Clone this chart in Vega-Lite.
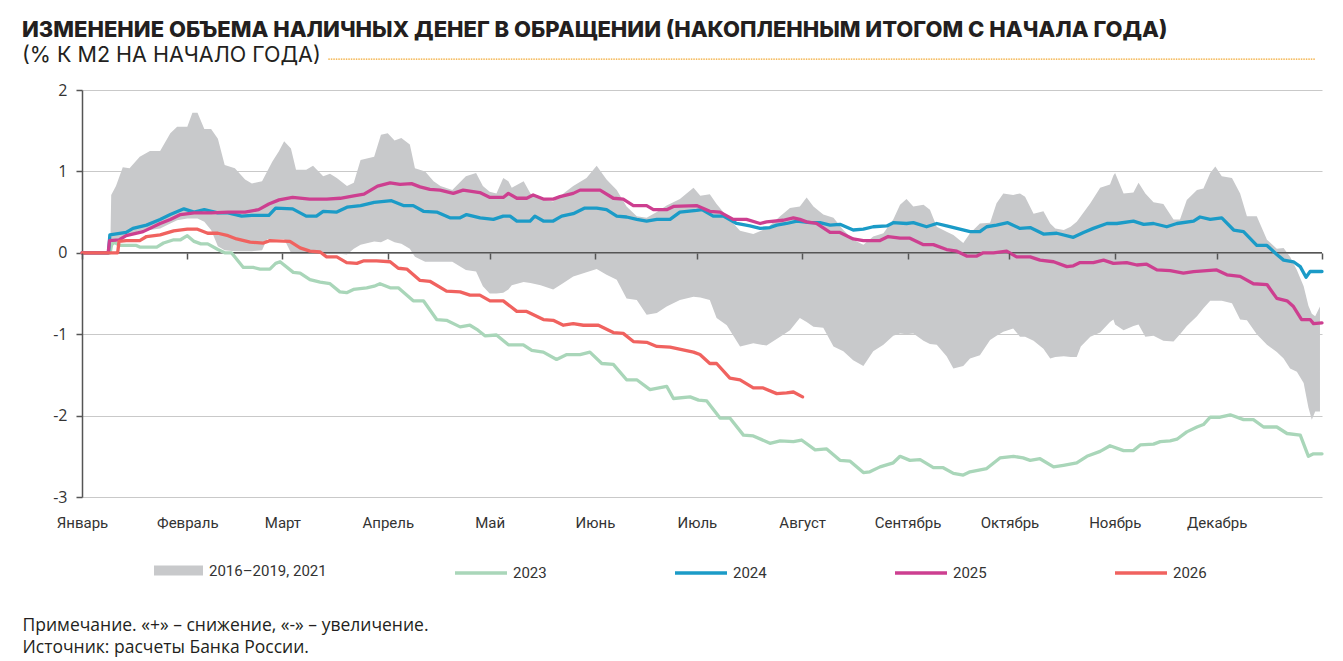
{
  "$schema": "https://vega.github.io/schema/vega-lite/v6.json",
  "width": 1240,
  "height": 407,
  "autosize": "none",
  "padding": {"left": 82, "top": 90, "right": 21, "bottom": 164},
  "background": "white",
  "title": {
    "text": "ИЗМЕНЕНИЕ ОБЪЕМА НАЛИЧНЫХ ДЕНЕГ В ОБРАЩЕНИИ (НАКОПЛЕННЫМ ИТОГОМ С НАЧАЛА ГОДА)",
    "subtitle": "(% К М2 НА НАЧАЛО ГОДА)",
    "anchor": "start",
    "frame": "group",
    "dx": -60,
    "offset": -9,
    "font": "Inter",
    "fontSize": 22,
    "fontWeight": 800,
    "color": "#231f20",
    "subtitleFont": "Inter",
    "subtitleFontSize": 21.5,
    "subtitleFontWeight": 400,
    "subtitleColor": "#231f20",
    "subtitlePadding": 3
  },
  "datasets": {
    "band": [
      {"day": 0, "lo": 0, "hi": 0}, {"day": 8.3, "lo": 0, "hi": 0}, {"day": 8.6, "lo": 0.05, "hi": 0.71},
      {"day": 10, "lo": 0.15, "hi": 0.82}, {"day": 12, "lo": 0.2, "hi": 1.05}, {"day": 14, "lo": 0.22, "hi": 1.04},
      {"day": 17, "lo": 0.27, "hi": 1.18}, {"day": 20, "lo": 0.28, "hi": 1.25}, {"day": 23, "lo": 0.3, "hi": 1.25},
      {"day": 26, "lo": 0.36, "hi": 1.47}, {"day": 28, "lo": 0.4, "hi": 1.55}, {"day": 31, "lo": 0.42, "hi": 1.55},
      {"day": 32.5, "lo": 0.42, "hi": 1.72}, {"day": 34, "lo": 0.42, "hi": 1.72}, {"day": 36, "lo": 0.38, "hi": 1.52},
      {"day": 38, "lo": 0.28, "hi": 1.52}, {"day": 40, "lo": 0.08, "hi": 1.4}, {"day": 42, "lo": 0.03, "hi": 1.08},
      {"day": 45, "lo": 0.02, "hi": 1.04}, {"day": 48, "lo": 0.02, "hi": 0.9}, {"day": 50, "lo": 0.02, "hi": 0.85},
      {"day": 53, "lo": 0.03, "hi": 0.88}, {"day": 54.5, "lo": 0.17, "hi": 1.0}, {"day": 56, "lo": 0.17, "hi": 1.12},
      {"day": 58, "lo": 0.17, "hi": 1.25}, {"day": 59.5, "lo": 0.17, "hi": 1.37}, {"day": 61.5, "lo": 0.0, "hi": 1.28},
      {"day": 63, "lo": -0.01, "hi": 1.02}, {"day": 66, "lo": -0.01, "hi": 1.02}, {"day": 68, "lo": -0.01, "hi": 1.07},
      {"day": 71, "lo": -0.01, "hi": 0.94}, {"day": 73, "lo": -0.01, "hi": 0.97}, {"day": 75, "lo": -0.01, "hi": 0.92},
      {"day": 78, "lo": -0.02, "hi": 0.82}, {"day": 80, "lo": 0.05, "hi": 0.86}, {"day": 82, "lo": 0.1, "hi": 1.14},
      {"day": 86, "lo": 0.14, "hi": 1.18}, {"day": 88, "lo": 0.13, "hi": 1.45}, {"day": 90, "lo": 0.17, "hi": 1.47},
      {"day": 92, "lo": 0.13, "hi": 1.38}, {"day": 94, "lo": 0.11, "hi": 1.41}, {"day": 96.5, "lo": 0.05, "hi": 1.33},
      {"day": 98, "lo": -0.05, "hi": 1.04}, {"day": 101, "lo": -0.11, "hi": 1.0}, {"day": 103.5, "lo": -0.11, "hi": 0.88},
      {"day": 105.5, "lo": -0.11, "hi": 0.82}, {"day": 109, "lo": -0.11, "hi": 0.77}, {"day": 113, "lo": -0.21, "hi": 0.94},
      {"day": 116, "lo": -0.23, "hi": 0.98}, {"day": 118, "lo": -0.41, "hi": 0.82}, {"day": 120, "lo": -0.5, "hi": 0.75},
      {"day": 122, "lo": -0.5, "hi": 0.73}, {"day": 124, "lo": -0.49, "hi": 0.92}, {"day": 125.5, "lo": -0.45, "hi": 0.88},
      {"day": 126.5, "lo": -0.4, "hi": 0.8}, {"day": 130, "lo": -0.36, "hi": 0.88}, {"day": 132, "lo": -0.37, "hi": 0.73},
      {"day": 135, "lo": -0.4, "hi": 0.66}, {"day": 138.7, "lo": -0.45, "hi": 0.63}, {"day": 141.7, "lo": -0.37, "hi": 0.73},
      {"day": 144.6, "lo": -0.29, "hi": 0.82}, {"day": 148.5, "lo": -0.24, "hi": 0.92}, {"day": 151.5, "lo": -0.2, "hi": 1.07},
      {"day": 154.4, "lo": -0.27, "hi": 0.9}, {"day": 157.4, "lo": -0.33, "hi": 0.77}, {"day": 160.3, "lo": -0.56, "hi": 0.57},
      {"day": 163.3, "lo": -0.58, "hi": 0.45}, {"day": 166.2, "lo": -0.76, "hi": 0.43}, {"day": 169.2, "lo": -0.74, "hi": 0.5},
      {"day": 172.1, "lo": -0.66, "hi": 0.58}, {"day": 176, "lo": -0.58, "hi": 0.66}, {"day": 180, "lo": -0.54, "hi": 0.8},
      {"day": 182, "lo": -0.55, "hi": 0.7}, {"day": 184.8, "lo": -0.58, "hi": 0.72}, {"day": 186.8, "lo": -0.8, "hi": 0.6},
      {"day": 189.8, "lo": -0.89, "hi": 0.45}, {"day": 193.7, "lo": -1.15, "hi": 0.27}, {"day": 197.6, "lo": -1.11, "hi": 0.23},
      {"day": 201.5, "lo": -1.14, "hi": 0.3}, {"day": 205.5, "lo": -1.03, "hi": 0.45}, {"day": 208.4, "lo": -0.95, "hi": 0.55},
      {"day": 211.3, "lo": -0.8, "hi": 0.57}, {"day": 213.3, "lo": -0.85, "hi": 0.68}, {"day": 215.3, "lo": -0.91, "hi": 0.57},
      {"day": 218.2, "lo": -0.92, "hi": 0.47}, {"day": 221.2, "lo": -1.15, "hi": 0.43}, {"day": 224.1, "lo": -1.21, "hi": 0.28},
      {"day": 227, "lo": -1.32, "hi": 0.16}, {"day": 230, "lo": -1.39, "hi": 0.1}, {"day": 232.9, "lo": -1.21, "hi": 0.2},
      {"day": 235.9, "lo": -1.13, "hi": 0.24}, {"day": 238.8, "lo": -1.02, "hi": 0.41}, {"day": 240.8, "lo": -0.99, "hi": 0.59},
      {"day": 242.7, "lo": -1.0, "hi": 0.66}, {"day": 244.7, "lo": -0.99, "hi": 0.57}, {"day": 247.7, "lo": -1.08, "hi": 0.59},
      {"day": 249.6, "lo": -1.12, "hi": 0.53}, {"day": 251.6, "lo": -1.13, "hi": 0.32}, {"day": 254.5, "lo": -1.27, "hi": 0.26},
      {"day": 256.5, "lo": -1.42, "hi": 0.22}, {"day": 259.4, "lo": -1.39, "hi": 0.12}, {"day": 261.4, "lo": -1.3, "hi": 0.24},
      {"day": 264.3, "lo": -1.26, "hi": 0.36}, {"day": 267.3, "lo": -1.07, "hi": 0.37}, {"day": 269.2, "lo": -1.02, "hi": 0.61},
      {"day": 271.2, "lo": -0.97, "hi": 0.73}, {"day": 274.1, "lo": -0.93, "hi": 0.71}, {"day": 276.1, "lo": -1.03, "hi": 0.73},
      {"day": 277.6, "lo": -1.03, "hi": 0.69}, {"day": 280.1, "lo": -1.08, "hi": 0.48}, {"day": 283, "lo": -1.18, "hi": 0.51},
      {"day": 285, "lo": -1.3, "hi": 0.36}, {"day": 286.5, "lo": -1.28, "hi": 0.3}, {"day": 289, "lo": -1.27, "hi": 0.28},
      {"day": 291, "lo": -1.28, "hi": 0.32}, {"day": 292.8, "lo": -1.28, "hi": 0.38}, {"day": 294, "lo": -1.15, "hi": 0.45},
      {"day": 296.8, "lo": -1.03, "hi": 0.61}, {"day": 299.7, "lo": -0.98, "hi": 0.8}, {"day": 302.6, "lo": -0.85, "hi": 0.84},
      {"day": 303.6, "lo": -0.82, "hi": 0.95}, {"day": 304.1, "lo": -0.88, "hi": 0.98}, {"day": 306.6, "lo": -0.95, "hi": 0.73},
      {"day": 309.5, "lo": -0.9, "hi": 0.74}, {"day": 311, "lo": -0.88, "hi": 0.86}, {"day": 313, "lo": -1.03, "hi": 0.73},
      {"day": 315.4, "lo": -1.02, "hi": 0.62}, {"day": 318.3, "lo": -1.08, "hi": 0.6}, {"day": 321.3, "lo": -1.09, "hi": 0.41},
      {"day": 323.2, "lo": -1.0, "hi": 0.41}, {"day": 325.2, "lo": -0.9, "hi": 0.65}, {"day": 328.2, "lo": -0.78, "hi": 0.77},
      {"day": 330.1, "lo": -0.68, "hi": 0.79}, {"day": 332.1, "lo": -0.59, "hi": 0.98}, {"day": 333.6, "lo": -0.59, "hi": 1.06},
      {"day": 335.5, "lo": -0.59, "hi": 0.94}, {"day": 338.5, "lo": -0.62, "hi": 0.92}, {"day": 340.9, "lo": -0.82, "hi": 0.73},
      {"day": 342.9, "lo": -0.83, "hi": 0.45}, {"day": 345.8, "lo": -1.0, "hi": 0.45}, {"day": 348.8, "lo": -1.13, "hi": 0.16},
      {"day": 351.7, "lo": -1.22, "hi": 0.05}, {"day": 353.7, "lo": -1.3, "hi": 0.06}, {"day": 355.6, "lo": -1.42, "hi": -0.05},
      {"day": 357.6, "lo": -1.46, "hi": -0.21}, {"day": 359.6, "lo": -1.6, "hi": -0.41}, {"day": 361, "lo": -1.9, "hi": -0.65},
      {"day": 362, "lo": -2.05, "hi": -0.75}, {"day": 363, "lo": -1.95, "hi": -0.78}, {"day": 364.4, "lo": -1.95, "hi": -0.66}
    ],
    "lines": [
      {"year": "2023", "day": 0, "value": 0}, {"year": "2023", "day": 8.3, "value": 0}, {"year": "2023", "day": 8.7, "value": 0.1},
      {"year": "2023", "day": 9.5, "value": 0.13}, {"year": "2023", "day": 11, "value": 0.09}, {"year": "2023", "day": 16, "value": 0.09},
      {"year": "2023", "day": 17, "value": 0.07}, {"year": "2023", "day": 22, "value": 0.07}, {"year": "2023", "day": 24, "value": 0.12},
      {"year": "2023", "day": 27, "value": 0.16}, {"year": "2023", "day": 29, "value": 0.16}, {"year": "2023", "day": 31, "value": 0.21},
      {"year": "2023", "day": 33, "value": 0.14}, {"year": "2023", "day": 35, "value": 0.11}, {"year": "2023", "day": 37, "value": 0.11},
      {"year": "2023", "day": 40, "value": 0.04}, {"year": "2023", "day": 42, "value": 0}, {"year": "2023", "day": 44, "value": 0},
      {"year": "2023", "day": 47.5, "value": -0.18}, {"year": "2023", "day": 50.4, "value": -0.18}, {"year": "2023", "day": 52.4, "value": -0.2},
      {"year": "2023", "day": 55.3, "value": -0.2}, {"year": "2023", "day": 57, "value": -0.13}, {"year": "2023", "day": 58.3, "value": -0.11},
      {"year": "2023", "day": 62.2, "value": -0.24}, {"year": "2023", "day": 64.2, "value": -0.25}, {"year": "2023", "day": 67.1, "value": -0.33},
      {"year": "2023", "day": 70.1, "value": -0.36}, {"year": "2023", "day": 73, "value": -0.38}, {"year": "2023", "day": 75.9, "value": -0.48},
      {"year": "2023", "day": 77.9, "value": -0.49}, {"year": "2023", "day": 79.9, "value": -0.45}, {"year": "2023", "day": 83.8, "value": -0.43},
      {"year": "2023", "day": 86, "value": -0.41}, {"year": "2023", "day": 87.7, "value": -0.38}, {"year": "2023", "day": 90.7, "value": -0.43},
      {"year": "2023", "day": 93.1, "value": -0.43}, {"year": "2023", "day": 97.5, "value": -0.59}, {"year": "2023", "day": 100.5, "value": -0.59},
      {"year": "2023", "day": 104.4, "value": -0.82}, {"year": "2023", "day": 107.3, "value": -0.83}, {"year": "2023", "day": 111.3, "value": -0.91},
      {"year": "2023", "day": 114.2, "value": -0.89}, {"year": "2023", "day": 116.2, "value": -0.94}, {"year": "2023", "day": 118.6, "value": -1.02},
      {"year": "2023", "day": 122, "value": -1.01}, {"year": "2023", "day": 125.5, "value": -1.13}, {"year": "2023", "day": 129.9, "value": -1.13},
      {"year": "2023", "day": 132.4, "value": -1.2}, {"year": "2023", "day": 135.8, "value": -1.22}, {"year": "2023", "day": 139.7, "value": -1.31},
      {"year": "2023", "day": 142.7, "value": -1.25}, {"year": "2023", "day": 146.6, "value": -1.25}, {"year": "2023", "day": 149.5, "value": -1.22},
      {"year": "2023", "day": 153, "value": -1.36}, {"year": "2023", "day": 156.4, "value": -1.37}, {"year": "2023", "day": 160.3, "value": -1.56},
      {"year": "2023", "day": 163.3, "value": -1.56}, {"year": "2023", "day": 167.2, "value": -1.68}, {"year": "2023", "day": 172.1, "value": -1.64},
      {"year": "2023", "day": 174.1, "value": -1.79}, {"year": "2023", "day": 179, "value": -1.77}, {"year": "2023", "day": 181.5, "value": -1.81},
      {"year": "2023", "day": 183.9, "value": -1.82}, {"year": "2023", "day": 187.8, "value": -2.03}, {"year": "2023", "day": 190.7, "value": -2.03},
      {"year": "2023", "day": 194.7, "value": -2.24}, {"year": "2023", "day": 197.6, "value": -2.25}, {"year": "2023", "day": 202.5, "value": -2.34},
      {"year": "2023", "day": 205.5, "value": -2.31}, {"year": "2023", "day": 209.4, "value": -2.32}, {"year": "2023", "day": 211.8, "value": -2.3},
      {"year": "2023", "day": 215.8, "value": -2.42}, {"year": "2023", "day": 219.2, "value": -2.41}, {"year": "2023", "day": 223.1, "value": -2.55},
      {"year": "2023", "day": 226.1, "value": -2.56}, {"year": "2023", "day": 230, "value": -2.7}, {"year": "2023", "day": 231.9, "value": -2.69},
      {"year": "2023", "day": 234.9, "value": -2.63}, {"year": "2023", "day": 238.8, "value": -2.58}, {"year": "2023", "day": 240.8, "value": -2.5},
      {"year": "2023", "day": 243.7, "value": -2.55}, {"year": "2023", "day": 246.7, "value": -2.54}, {"year": "2023", "day": 250.6, "value": -2.64},
      {"year": "2023", "day": 253.5, "value": -2.64}, {"year": "2023", "day": 256.5, "value": -2.71}, {"year": "2023", "day": 259.4, "value": -2.73},
      {"year": "2023", "day": 261.4, "value": -2.69}, {"year": "2023", "day": 266.3, "value": -2.65}, {"year": "2023", "day": 270.2, "value": -2.52},
      {"year": "2023", "day": 274.2, "value": -2.5}, {"year": "2023", "day": 277, "value": -2.52}, {"year": "2023", "day": 279.1, "value": -2.55},
      {"year": "2023", "day": 282, "value": -2.53}, {"year": "2023", "day": 286, "value": -2.63}, {"year": "2023", "day": 288.9, "value": -2.61},
      {"year": "2023", "day": 292.8, "value": -2.58}, {"year": "2023", "day": 295.8, "value": -2.5}, {"year": "2023", "day": 299.7, "value": -2.44},
      {"year": "2023", "day": 302.6, "value": -2.37}, {"year": "2023", "day": 306.6, "value": -2.43}, {"year": "2023", "day": 309.5, "value": -2.43},
      {"year": "2023", "day": 311.5, "value": -2.36}, {"year": "2023", "day": 315.4, "value": -2.35}, {"year": "2023", "day": 317.4, "value": -2.32},
      {"year": "2023", "day": 320.3, "value": -2.31}, {"year": "2023", "day": 322.3, "value": -2.29}, {"year": "2023", "day": 325.2, "value": -2.2},
      {"year": "2023", "day": 328.2, "value": -2.14}, {"year": "2023", "day": 330.1, "value": -2.11}, {"year": "2023", "day": 332.1, "value": -2.02},
      {"year": "2023", "day": 335, "value": -2.02}, {"year": "2023", "day": 338, "value": -1.99}, {"year": "2023", "day": 341.9, "value": -2.05},
      {"year": "2023", "day": 344.8, "value": -2.05}, {"year": "2023", "day": 347.8, "value": -2.14}, {"year": "2023", "day": 351.7, "value": -2.14},
      {"year": "2023", "day": 354.7, "value": -2.22}, {"year": "2023", "day": 358.6, "value": -2.24}, {"year": "2023", "day": 361, "value": -2.5},
      {"year": "2023", "day": 362.5, "value": -2.47}, {"year": "2023", "day": 365, "value": -2.47},

      {"year": "2024", "day": 0, "value": 0}, {"year": "2024", "day": 7.8, "value": 0}, {"year": "2024", "day": 8.2, "value": 0.22},
      {"year": "2024", "day": 13, "value": 0.25}, {"year": "2024", "day": 15, "value": 0.3}, {"year": "2024", "day": 19, "value": 0.34},
      {"year": "2024", "day": 23, "value": 0.41}, {"year": "2024", "day": 26, "value": 0.47}, {"year": "2024", "day": 30, "value": 0.54},
      {"year": "2024", "day": 33, "value": 0.5}, {"year": "2024", "day": 36, "value": 0.53}, {"year": "2024", "day": 40, "value": 0.49},
      {"year": "2024", "day": 43, "value": 0.49}, {"year": "2024", "day": 47, "value": 0.45}, {"year": "2024", "day": 50, "value": 0.46},
      {"year": "2024", "day": 55, "value": 0.46}, {"year": "2024", "day": 57, "value": 0.55}, {"year": "2024", "day": 62, "value": 0.54},
      {"year": "2024", "day": 66, "value": 0.45}, {"year": "2024", "day": 69, "value": 0.45}, {"year": "2024", "day": 71, "value": 0.51},
      {"year": "2024", "day": 75, "value": 0.5}, {"year": "2024", "day": 78, "value": 0.56}, {"year": "2024", "day": 82, "value": 0.58},
      {"year": "2024", "day": 86, "value": 0.62}, {"year": "2024", "day": 91.1, "value": 0.64}, {"year": "2024", "day": 94.6, "value": 0.58},
      {"year": "2024", "day": 97.5, "value": 0.58}, {"year": "2024", "day": 100.5, "value": 0.51}, {"year": "2024", "day": 104.4, "value": 0.5},
      {"year": "2024", "day": 108.3, "value": 0.43}, {"year": "2024", "day": 111.3, "value": 0.43}, {"year": "2024", "day": 113.2, "value": 0.47},
      {"year": "2024", "day": 117.2, "value": 0.43}, {"year": "2024", "day": 121.1, "value": 0.41}, {"year": "2024", "day": 124, "value": 0.45},
      {"year": "2024", "day": 126, "value": 0.45}, {"year": "2024", "day": 128, "value": 0.39}, {"year": "2024", "day": 131.9, "value": 0.39},
      {"year": "2024", "day": 133.3, "value": 0.45}, {"year": "2024", "day": 135.8, "value": 0.39}, {"year": "2024", "day": 138.7, "value": 0.39},
      {"year": "2024", "day": 141.2, "value": 0.45}, {"year": "2024", "day": 144.6, "value": 0.48}, {"year": "2024", "day": 148, "value": 0.55},
      {"year": "2024", "day": 151.5, "value": 0.55}, {"year": "2024", "day": 154.4, "value": 0.53}, {"year": "2024", "day": 157.4, "value": 0.45},
      {"year": "2024", "day": 160.3, "value": 0.44}, {"year": "2024", "day": 163.3, "value": 0.41}, {"year": "2024", "day": 166.2, "value": 0.39},
      {"year": "2024", "day": 169.2, "value": 0.41}, {"year": "2024", "day": 173.1, "value": 0.41}, {"year": "2024", "day": 176, "value": 0.5},
      {"year": "2024", "day": 180.9, "value": 0.52}, {"year": "2024", "day": 182.5, "value": 0.53}, {"year": "2024", "day": 185.8, "value": 0.45},
      {"year": "2024", "day": 188.8, "value": 0.45}, {"year": "2024", "day": 192.7, "value": 0.36}, {"year": "2024", "day": 196.6, "value": 0.33},
      {"year": "2024", "day": 199.6, "value": 0.3}, {"year": "2024", "day": 202.5, "value": 0.31}, {"year": "2024", "day": 204.5, "value": 0.34},
      {"year": "2024", "day": 207.4, "value": 0.36}, {"year": "2024", "day": 210.4, "value": 0.39}, {"year": "2024", "day": 214.3, "value": 0.37},
      {"year": "2024", "day": 217.2, "value": 0.37}, {"year": "2024", "day": 220.2, "value": 0.34}, {"year": "2024", "day": 223.1, "value": 0.35},
      {"year": "2024", "day": 227, "value": 0.28}, {"year": "2024", "day": 230, "value": 0.29}, {"year": "2024", "day": 232.9, "value": 0.32},
      {"year": "2024", "day": 236.9, "value": 0.33}, {"year": "2024", "day": 238.8, "value": 0.37}, {"year": "2024", "day": 242.7, "value": 0.36},
      {"year": "2024", "day": 244.7, "value": 0.37}, {"year": "2024", "day": 248.6, "value": 0.32}, {"year": "2024", "day": 251.6, "value": 0.36},
      {"year": "2024", "day": 254.5, "value": 0.33}, {"year": "2024", "day": 258.4, "value": 0.29}, {"year": "2024", "day": 261.4, "value": 0.26},
      {"year": "2024", "day": 264.3, "value": 0.26}, {"year": "2024", "day": 266.3, "value": 0.32}, {"year": "2024", "day": 269.2, "value": 0.34},
      {"year": "2024", "day": 272.5, "value": 0.37}, {"year": "2024", "day": 276.1, "value": 0.3}, {"year": "2024", "day": 279.1, "value": 0.31},
      {"year": "2024", "day": 283, "value": 0.23}, {"year": "2024", "day": 286.9, "value": 0.24}, {"year": "2024", "day": 291.8, "value": 0.19},
      {"year": "2024", "day": 294.8, "value": 0.25}, {"year": "2024", "day": 297.7, "value": 0.3}, {"year": "2024", "day": 301.7, "value": 0.36},
      {"year": "2024", "day": 304.6, "value": 0.36}, {"year": "2024", "day": 309.5, "value": 0.39}, {"year": "2024", "day": 312.5, "value": 0.35},
      {"year": "2024", "day": 315.4, "value": 0.36}, {"year": "2024", "day": 319.3, "value": 0.32}, {"year": "2024", "day": 322.3, "value": 0.36},
      {"year": "2024", "day": 327.2, "value": 0.39}, {"year": "2024", "day": 329.1, "value": 0.44}, {"year": "2024", "day": 332.1, "value": 0.41},
      {"year": "2024", "day": 335.5, "value": 0.43}, {"year": "2024", "day": 339, "value": 0.28}, {"year": "2024", "day": 341.9, "value": 0.26},
      {"year": "2024", "day": 345.8, "value": 0.09}, {"year": "2024", "day": 348.8, "value": 0.09}, {"year": "2024", "day": 351.7, "value": -0.02},
      {"year": "2024", "day": 353.7, "value": -0.09}, {"year": "2024", "day": 356.6, "value": -0.11}, {"year": "2024", "day": 358.6, "value": -0.17},
      {"year": "2024", "day": 360.3, "value": -0.3}, {"year": "2024", "day": 361.5, "value": -0.23}, {"year": "2024", "day": 365, "value": -0.23},

      {"year": "2025", "day": 0, "value": 0}, {"year": "2025", "day": 7.7, "value": 0}, {"year": "2025", "day": 8.1, "value": 0.15},
      {"year": "2025", "day": 11, "value": 0.16}, {"year": "2025", "day": 13, "value": 0.21}, {"year": "2025", "day": 18, "value": 0.26},
      {"year": "2025", "day": 23, "value": 0.36}, {"year": "2025", "day": 26, "value": 0.41}, {"year": "2025", "day": 29, "value": 0.47},
      {"year": "2025", "day": 33, "value": 0.49}, {"year": "2025", "day": 38, "value": 0.49}, {"year": "2025", "day": 43, "value": 0.5},
      {"year": "2025", "day": 48, "value": 0.5}, {"year": "2025", "day": 52, "value": 0.53}, {"year": "2025", "day": 55, "value": 0.6},
      {"year": "2025", "day": 58, "value": 0.65}, {"year": "2025", "day": 62, "value": 0.68}, {"year": "2025", "day": 67, "value": 0.66},
      {"year": "2025", "day": 72, "value": 0.66}, {"year": "2025", "day": 76, "value": 0.67}, {"year": "2025", "day": 80, "value": 0.7},
      {"year": "2025", "day": 83, "value": 0.72}, {"year": "2025", "day": 87, "value": 0.82}, {"year": "2025", "day": 90.7, "value": 0.86},
      {"year": "2025", "day": 93.6, "value": 0.84}, {"year": "2025", "day": 97, "value": 0.85}, {"year": "2025", "day": 99.5, "value": 0.81},
      {"year": "2025", "day": 102.4, "value": 0.78}, {"year": "2025", "day": 105.4, "value": 0.77}, {"year": "2025", "day": 109.3, "value": 0.73},
      {"year": "2025", "day": 112.2, "value": 0.77}, {"year": "2025", "day": 117.1, "value": 0.74}, {"year": "2025", "day": 120.1, "value": 0.68},
      {"year": "2025", "day": 124, "value": 0.68}, {"year": "2025", "day": 125.5, "value": 0.73}, {"year": "2025", "day": 128, "value": 0.67},
      {"year": "2025", "day": 130.9, "value": 0.67}, {"year": "2025", "day": 132.8, "value": 0.71}, {"year": "2025", "day": 135.8, "value": 0.66},
      {"year": "2025", "day": 138.7, "value": 0.66}, {"year": "2025", "day": 140.7, "value": 0.69}, {"year": "2025", "day": 144.6, "value": 0.73},
      {"year": "2025", "day": 146.6, "value": 0.77}, {"year": "2025", "day": 152.5, "value": 0.77}, {"year": "2025", "day": 156.4, "value": 0.67},
      {"year": "2025", "day": 159.3, "value": 0.66}, {"year": "2025", "day": 162.3, "value": 0.58}, {"year": "2025", "day": 166.2, "value": 0.58},
      {"year": "2025", "day": 168.2, "value": 0.53}, {"year": "2025", "day": 172.1, "value": 0.53}, {"year": "2025", "day": 174.1, "value": 0.57},
      {"year": "2025", "day": 180.9, "value": 0.58}, {"year": "2025", "day": 184.8, "value": 0.51}, {"year": "2025", "day": 187.8, "value": 0.5},
      {"year": "2025", "day": 191.7, "value": 0.41}, {"year": "2025", "day": 195.6, "value": 0.41}, {"year": "2025", "day": 199.6, "value": 0.36},
      {"year": "2025", "day": 201.5, "value": 0.38}, {"year": "2025", "day": 206.4, "value": 0.4}, {"year": "2025", "day": 209.4, "value": 0.43},
      {"year": "2025", "day": 211.3, "value": 0.41}, {"year": "2025", "day": 213.3, "value": 0.38}, {"year": "2025", "day": 216.2, "value": 0.36},
      {"year": "2025", "day": 220.2, "value": 0.25}, {"year": "2025", "day": 223.1, "value": 0.25}, {"year": "2025", "day": 227, "value": 0.17},
      {"year": "2025", "day": 230, "value": 0.15}, {"year": "2025", "day": 234.9, "value": 0.15}, {"year": "2025", "day": 237.3, "value": 0.2},
      {"year": "2025", "day": 240.8, "value": 0.18}, {"year": "2025", "day": 243.7, "value": 0.18}, {"year": "2025", "day": 247.7, "value": 0.1},
      {"year": "2025", "day": 250.6, "value": 0.1}, {"year": "2025", "day": 254.5, "value": 0.04}, {"year": "2025", "day": 257.5, "value": 0.02},
      {"year": "2025", "day": 260.4, "value": -0.04}, {"year": "2025", "day": 263.4, "value": -0.04}, {"year": "2025", "day": 265.3, "value": 0},
      {"year": "2025", "day": 268.3, "value": 0}, {"year": "2025", "day": 272.2, "value": 0.02}, {"year": "2025", "day": 275.1, "value": -0.05},
      {"year": "2025", "day": 279.1, "value": -0.05}, {"year": "2025", "day": 282, "value": -0.09}, {"year": "2025", "day": 286, "value": -0.11},
      {"year": "2025", "day": 289.9, "value": -0.17}, {"year": "2025", "day": 291.8, "value": -0.16}, {"year": "2025", "day": 293.8, "value": -0.12},
      {"year": "2025", "day": 297.7, "value": -0.12}, {"year": "2025", "day": 300.7, "value": -0.09}, {"year": "2025", "day": 303.6, "value": -0.13},
      {"year": "2025", "day": 307.5, "value": -0.12}, {"year": "2025", "day": 310.5, "value": -0.15}, {"year": "2025", "day": 313.4, "value": -0.14},
      {"year": "2025", "day": 316.4, "value": -0.21}, {"year": "2025", "day": 320.3, "value": -0.22}, {"year": "2025", "day": 324.2, "value": -0.25},
      {"year": "2025", "day": 327.2, "value": -0.23}, {"year": "2025", "day": 334, "value": -0.21}, {"year": "2025", "day": 337, "value": -0.27},
      {"year": "2025", "day": 340.9, "value": -0.29}, {"year": "2025", "day": 344.8, "value": -0.38}, {"year": "2025", "day": 348.8, "value": -0.39},
      {"year": "2025", "day": 351.7, "value": -0.56}, {"year": "2025", "day": 354.7, "value": -0.59}, {"year": "2025", "day": 356.6, "value": -0.66},
      {"year": "2025", "day": 359, "value": -0.82}, {"year": "2025", "day": 361.5, "value": -0.82}, {"year": "2025", "day": 362.5, "value": -0.87},
      {"year": "2025", "day": 365, "value": -0.86},

      {"year": "2026", "day": 0, "value": 0}, {"year": "2026", "day": 10.5, "value": 0}, {"year": "2026", "day": 10.9, "value": 0.14},
      {"year": "2026", "day": 13, "value": 0.15}, {"year": "2026", "day": 17, "value": 0.15}, {"year": "2026", "day": 19, "value": 0.2},
      {"year": "2026", "day": 23, "value": 0.22}, {"year": "2026", "day": 27, "value": 0.27}, {"year": "2026", "day": 31, "value": 0.29},
      {"year": "2026", "day": 34, "value": 0.29}, {"year": "2026", "day": 37, "value": 0.24}, {"year": "2026", "day": 40, "value": 0.24},
      {"year": "2026", "day": 43, "value": 0.21}, {"year": "2026", "day": 45.5, "value": 0.17}, {"year": "2026", "day": 49.5, "value": 0.13},
      {"year": "2026", "day": 53.4, "value": 0.12}, {"year": "2026", "day": 55.3, "value": 0.15}, {"year": "2026", "day": 61.2, "value": 0.14},
      {"year": "2026", "day": 64.2, "value": 0.06}, {"year": "2026", "day": 67.1, "value": 0.02}, {"year": "2026", "day": 70.1, "value": 0.01},
      {"year": "2026", "day": 72, "value": -0.05}, {"year": "2026", "day": 75, "value": -0.05}, {"year": "2026", "day": 77.9, "value": -0.12},
      {"year": "2026", "day": 80.9, "value": -0.13}, {"year": "2026", "day": 82.8, "value": -0.1}, {"year": "2026", "day": 86.7, "value": -0.1},
      {"year": "2026", "day": 90.7, "value": -0.11}, {"year": "2026", "day": 93.1, "value": -0.19}, {"year": "2026", "day": 95.6, "value": -0.2},
      {"year": "2026", "day": 99.5, "value": -0.34}, {"year": "2026", "day": 102.4, "value": -0.35}, {"year": "2026", "day": 107.3, "value": -0.47},
      {"year": "2026", "day": 111.3, "value": -0.48}, {"year": "2026", "day": 114.2, "value": -0.52}, {"year": "2026", "day": 117.1, "value": -0.52},
      {"year": "2026", "day": 120.1, "value": -0.59}, {"year": "2026", "day": 124, "value": -0.59}, {"year": "2026", "day": 128, "value": -0.72},
      {"year": "2026", "day": 130.9, "value": -0.72}, {"year": "2026", "day": 135.8, "value": -0.82}, {"year": "2026", "day": 138.7, "value": -0.83},
      {"year": "2026", "day": 141.7, "value": -0.89}, {"year": "2026", "day": 144.6, "value": -0.87}, {"year": "2026", "day": 147.6, "value": -0.89},
      {"year": "2026", "day": 152, "value": -0.89}, {"year": "2026", "day": 156.4, "value": -0.98}, {"year": "2026", "day": 159.3, "value": -0.99},
      {"year": "2026", "day": 162.3, "value": -1.09}, {"year": "2026", "day": 166.2, "value": -1.1}, {"year": "2026", "day": 169.2, "value": -1.15},
      {"year": "2026", "day": 173.1, "value": -1.16}, {"year": "2026", "day": 180, "value": -1.22}, {"year": "2026", "day": 181.9, "value": -1.25},
      {"year": "2026", "day": 184.8, "value": -1.36}, {"year": "2026", "day": 186.8, "value": -1.36}, {"year": "2026", "day": 190.7, "value": -1.54},
      {"year": "2026", "day": 193.7, "value": -1.56}, {"year": "2026", "day": 197.6, "value": -1.66}, {"year": "2026", "day": 200.5, "value": -1.66},
      {"year": "2026", "day": 204.5, "value": -1.73}, {"year": "2026", "day": 207.4, "value": -1.72}, {"year": "2026", "day": 209.4, "value": -1.71},
      {"year": "2026", "day": 212.1, "value": -1.77}
    ]
  },
  "layer": [
    {
      "data": {"name": "band"},
      "mark": {"type": "area", "opacity": 1},
      "encoding": {
        "x": {
          "field": "day",
          "type": "quantitative",
          "scale": {"domain": [0, 365], "nice": false, "zero": false},
          "axis": {
            "orient": "bottom",
            "values": [0, 31, 59, 90, 120, 151, 181, 212, 243, 273, 304, 334, 365],
            "labelExpr": "['Январь','Февраль','Март','Апрель','Май','Июнь','Июль','Август','Сентябрь','Октябрь','Ноябрь','Декабрь',''][indexof([0,31,59,90,120,151,181,212,243,273,304,334,365], datum.value)]",
            "domain": false,
            "ticks": false,
            "tickSize": 0,
            "grid": false,
            "labelPadding": 30,
            "labelBaseline": "alphabetic",
            "labelFont": "Roboto",
            "labelFontSize": 15,
            "labelColor": "#333333",
            "labelOverlap": false,
            "labelFlush": false,
            "labelBound": false,
            "title": ["Примечание. «+» – снижение, «-» – увеличение.", "Источник: расчеты Банка России."],
            "titleFont": "Open Sans",
            "titleFontSize": 17.5,
            "titleFontWeight": 400,
            "titleColor": "#231f20",
            "titleAnchor": "start",
            "titleAlign": "left",
            "titleBaseline": "alphabetic",
            "titleX": -60,
            "titleY": 133,
            "titleLineHeight": 22
          }
        },
        "y": {
          "field": "lo",
          "type": "quantitative",
          "title": null,
          "scale": {"domain": [-3, 2], "nice": false, "zero": false},
          "axis": {
            "values": [-3, -2, -1, 0, 1, 2],
            "labelExpr": "'' + datum.value",
            "grid": true,
            "gridColor": "#c9c9c9",
            "gridWidth": 1,
            "domain": true,
            "domainColor": "#555555",
            "domainWidth": 1.5,
            "ticks": true,
            "tickSize": 6,
            "tickColor": "#555555",
            "tickWidth": 1.5,
            "labelFont": "Open Sans",
            "labelFontSize": 16,
            "labelColor": "#333333",
            "labelPadding": 9
          }
        },
        "y2": {"field": "hi"},
        "fill": {
          "datum": "2016–2019, 2021",
          "scale": {"range": ["#c8c9cb"]},
          "legend": {
            "orient": "none",
            "legendX": 72,
            "legendY": 456,
            "title": null,
            "padding": 0,
            "symbolType": "M-1,-0.2H1V0.2H-1Z",
            "symbolSize": 2401,
            "symbolStrokeWidth": 0,
            "labelFont": "Roboto",
            "labelFontSize": 15,
            "labelColor": "#333333",
            "labelOffset": 6
          }
        }
      }
    },
    {
      "data": {"values": [{}]},
      "mark": {"type": "rule", "color": "#555555", "strokeWidth": 1.5},
      "encoding": {"y": {"datum": 0}}
    },
    {
      "data": {"name": "lines"},
      "mark": {"type": "line", "strokeWidth": 3.3, "strokeJoin": "round", "strokeCap": "round"},
      "encoding": {
        "x": {
          "field": "day",
          "type": "quantitative",
          "axis": {
            "orient": "bottom",
            "offset": -244,
            "values": [0, 31, 59, 90, 120, 151, 181, 212, 243, 273, 304, 334, 365],
            "labels": false,
            "domain": false,
            "ticks": true,
            "tickSize": 6,
            "tickColor": "#555555",
            "tickWidth": 1.5,
            "grid": false,
            "title": null,
            "zindex": 1
          }
        },
        "y": {"field": "value", "type": "quantitative", "title": null},
        "stroke": {
          "field": "year",
          "type": "nominal",
          "scale": {
            "domain": ["2023", "2024", "2025", "2026"],
            "range": ["#a9d6b9", "#1b9bc7", "#cd3f90", "#f0625f"]
          },
          "legend": {
            "orient": "none",
            "legendX": 371,
            "legendY": 455,
            "direction": "horizontal",
            "columns": 4,
            "columnPadding": 121,
            "title": null,
            "padding": 0,
            "symbolType": "stroke",
            "symbolSize": 2704,
            "symbolStrokeWidth": 3.5,
            "labelFont": "Roboto",
            "labelFontSize": 15,
            "labelColor": "#333333",
            "labelOffset": 4
          }
        }
      }
    },
    {
      "data": {"values": [{}]},
      "mark": {"type": "rule", "color": "#f2a52b", "strokeWidth": 1.3, "strokeDash": [1.5, 1], "clip": false},
      "encoding": {
        "x": {"datum": 72.5, "axis": null},
        "x2": {"datum": 363},
        "y": {"datum": 2.38}
      }
    }
  ],
  "resolve": {"axis": {"x": "independent"}},
  "config": {"view": {"stroke": null}}
}
